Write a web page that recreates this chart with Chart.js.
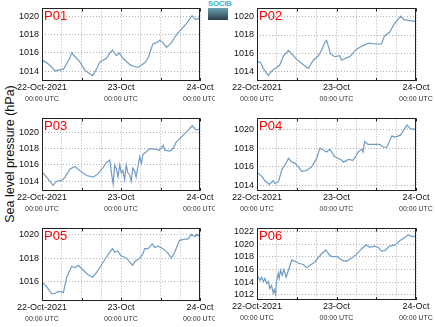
<!DOCTYPE html>
<html>
<head>
<meta charset="utf-8">
<script src="https://cdn.jsdelivr.net/npm/chart.js@4/dist/chart.umd.min.js"></script>
<style>
  body { margin: 0; background: #fff; width: 435px; height: 327px; position: relative; overflow: hidden; font-family: "Liberation Sans", Arial, sans-serif; }
  canvas { position: absolute; }
  #ytitle { position: absolute; left: 10px; top: 154px; transform: translate(-50%, -50%) rotate(-90deg); font-size: 12.5px; white-space: nowrap; color: #111; }
  #logo { position: absolute; left: 208px; top: 0; width: 20px; height: 21px; }
  #logo .t { font-size: 8px; color: #3fb6d6; line-height: 8px; letter-spacing: -0.4px; font-weight: bold; }
  #logo .b { width: 20px; height: 12px; background: linear-gradient(#6aa3b3, #2c3b4a); }
</style>
</head>
<body>
<div id="ytitle">Sea level pressure (hPa)</div>
<div id="logo"><div class="t">SOCIB</div><div class="b"></div></div>
<canvas id="c1"></canvas><canvas id="c2"></canvas>
<canvas id="c3"></canvas><canvas id="c4"></canvas>
<canvas id="c5"></canvas><canvas id="c6"></canvas>
<script>
// hours since 22-Oct-2021 00:00 UTC
const xTickHours = [0, 24, 48];
const xTickDates = ['22-Oct-2021', '23-Oct', '24-Oct'];
const xTickTimes = ['00:00 UTC', '00:00 UTC', '00:00 UTC'];
const stationNames = ['P01', 'P02', 'P03', 'P04', 'P05', 'P06'];

const p01Hours = [0,1.5,3,4,5,6.5,7.5,8.5,9,10,11.5,13,14.5,15.4,16.5,17.6,19.6,20.6,21.4,22,22.6,23.4,24.6,26.7,28,29.2,30.2,31.2,32.2,33.7,34.7,35.8,36.8,37.8,39.3,40.5,41.8,43.8,45.6,46.6,48];
const p01Values = [1015.2,1014.9,1014.4,1014.0,1014.1,1014.2,1014.8,1015.5,1016.0,1015.6,1015.0,1014.1,1013.7,1013.5,1014.2,1015.0,1015.4,1016.0,1016.3,1016.0,1015.7,1016.0,1015.4,1014.7,1014.5,1014.4,1014.65,1014.9,1015.4,1017.0,1017.1,1017.4,1017.1,1016.6,1017.1,1017.8,1018.4,1019.2,1020.1,1019.7,1019.8];

const p02Hours = [0,1,1.9,3.4,4.4,5.9,6.9,8,9.5,10.5,12,14,15.5,17,18.5,19.5,20.5,21,21.5,22.2,23.5,25,25.5,26.5,28,30,31.8,33.7,35.6,37.6,38.5,40,41.4,43.4,44.4,46,48];
const p02Values = [1015.0,1015.0,1014.3,1013.5,1014.0,1014.4,1014.7,1015.7,1016.3,1015.9,1015.3,1014.7,1014.3,1015.2,1015.7,1016.3,1017.2,1017.4,1016.8,1015.9,1015.6,1015.7,1015.2,1015.4,1015.6,1016.4,1016.8,1017.1,1017.0,1017.0,1017.9,1018.3,1019.2,1020.1,1019.7,1019.6,1019.5];

const p03Hours = [0,1.4,3.4,4.4,6,7,8.5,10,11.5,13.5,15.6,17,18.6,19.6,20.6,21.1,21.6,22.1,22.6,23.1,23.6,24.1,24.6,25.1,25.6,26.1,26.6,27.1,27.6,28.1,28.6,29.2,29.7,30.2,30.7,31.7,32.7,34.7,35.7,36.8,37.3,38.8,39.8,40.8,42.3,44.3,45.6,46.8,48];
const p03Values = [1015.1,1014.5,1013.5,1014.0,1014.1,1014.5,1015.5,1015.8,1015.3,1014.7,1014.5,1014.9,1015.7,1016.3,1016.6,1015.0,1013.7,1016.0,1015.5,1014.5,1016.0,1015.0,1015.3,1014.2,1016.0,1015.0,1014.8,1014.0,1015.6,1015.3,1014.5,1015.9,1017.0,1016.2,1017.3,1017.6,1018.0,1017.9,1017.8,1018.4,1017.8,1017.7,1018.0,1018.8,1019.4,1020.2,1020.8,1020.3,1020.4];

const p04Hours = [0,1.4,2.4,3.7,4.9,5.4,6.5,7.5,8.5,9.5,10.5,11.5,12.5,13.5,15,16.5,18,19,20,21,22,23.4,25.6,26.1,27.6,29,30.6,31.6,32,32.5,33.5,34.7,37,38.2,39.2,40.7,41.7,43.3,45.3,46.3,48];
const p04Values = [1015.4,1015.0,1014.5,1014.1,1014.5,1014.2,1014.4,1015.7,1016.2,1016.9,1016.5,1016.4,1016.0,1015.5,1015.6,1016.0,1016.9,1018.0,1017.8,1017.6,1017.9,1017.1,1016.7,1016.5,1016.8,1016.7,1017.6,1017.9,1017.6,1018.7,1018.4,1018.4,1018.4,1018.1,1018.1,1019.3,1019.2,1019.4,1020.5,1020.1,1020.0];

const p05Hours = [0,1.4,2.9,3.9,5,6,6.5,7.5,9,10,11,12.5,14,15.4,16.6,18,19.6,21.4,22.1,23,24,25.7,27.5,28.2,29.7,30.7,31.2,32.2,33.5,34.2,35.2,36.8,38.3,39.3,40.3,41.8,43.3,44.3,45.4,46.4,47.1,48];
const p05Values = [1016.0,1015.6,1015.0,1015.05,1015.2,1015.15,1015.1,1016.4,1017.3,1017.2,1017.4,1017.0,1016.6,1016.4,1016.8,1017.4,1018.1,1018.8,1018.5,1018.6,1018.2,1018.0,1017.4,1017.7,1018.0,1018.4,1018.8,1018.8,1019.2,1018.9,1019.0,1018.8,1018.4,1018.0,1018.5,1019.5,1019.6,1019.6,1020.0,1019.8,1020.0,1019.8];

const p06Hours = [0,0.9,1.4,1.9,2.4,2.9,3.4,3.9,4.4,4.9,5.2,5.6,5.9,6.4,6.7,7.1,7.6,8.1,8.8,9.5,10.5,11.5,12.5,14,15,16,17.5,18.5,19.5,20.8,22,23,24,25.6,27,28.5,30,31.6,33,34,35.6,36.6,37.6,38.6,40,41.6,43.2,44.7,45.7,46.7,48];
const p06Values = [1015.2,1014.3,1014.8,1014.1,1014.6,1013.8,1014.1,1013.0,1013.5,1012.3,1012.8,1012.1,1014.1,1015.4,1014.6,1015.9,1015.1,1016.0,1014.8,1015.9,1017.5,1017.3,1017.0,1016.8,1016.3,1016.7,1017.2,1017.9,1018.5,1019.1,1018.2,1018.0,1018.1,1017.5,1017.3,1017.8,1018.4,1019.3,1019.9,1019.5,1019.7,1019.5,1018.9,1019.0,1019.7,1019.9,1020.6,1021.1,1021.5,1021.2,1021.3];

const yMins = [1012.9, 1012.9, 1012.8, 1013.4, 1014.4, 1011.2];
const yMaxs = [1020.9, 1020.95, 1021.7, 1021.2, 1020.5, 1022.5];
const yStep = 2;

const allHours = [p01Hours, p02Hours, p03Hours, p04Hours, p05Hours, p06Hours];
const allValues = [p01Values, p02Values, p03Values, p04Values, p05Values, p06Values];

// canvas boxes: [left, top, width, height, padTop, padRight, xAxisHeight]
const boxes = [
  [0, 0, 215, 110, 8, 15, 29],
  [215, 0, 220, 110, 7, 19, 29],
  [0, 110, 215, 110, 8, 15, 29],
  [215, 110, 220, 110, 8, 19, 29],
  [0, 220, 215, 107, 8, 15, 26],
  [215, 220, 220, 107, 8, 19, 27]
];

const FONT = '"Liberation Sans", Arial, sans-serif';

const framePlugin = {
  id: 'frame',
  afterDraw(chart) {
    const ctx = chart.ctx, a = chart.chartArea, x = chart.scales.x;
    ctx.save();
    ctx.strokeStyle = '#222';
    ctx.lineWidth = 1;
    ctx.strokeRect(Math.round(a.left) + 0.5, Math.round(a.top) + 0.5, Math.round(a.right - a.left) - 1, Math.round(a.bottom - a.top) - 1);
    // small inward ticks every 12 h
    ctx.beginPath();
    for (let h = 0; h <= 48; h += 12) {
      const px = Math.round(x.getPixelForValue(h)) + 0.5;
      ctx.moveTo(px, a.bottom); ctx.lineTo(px, a.bottom - 3);
      ctx.moveTo(px, a.top); ctx.lineTo(px, a.top + 3);
    }
    ctx.stroke();
    ctx.textAlign = 'center';
    ctx.textBaseline = 'middle';
    xTickHours.forEach((h, i) => {
      const px = x.getPixelForValue(h);
      ctx.fillStyle = '#111';
      ctx.font = '9px ' + FONT;
      ctx.fillText(xTickDates[i], px, a.bottom + 7);
      ctx.fillStyle = '#333';
      ctx.font = '7px ' + FONT;
      ctx.fillText(xTickTimes[i], px, a.bottom + 18);
    });
    ctx.fillStyle = '#ff0000';
    ctx.font = '13px ' + FONT;
    ctx.textAlign = 'left';
    ctx.textBaseline = 'alphabetic';
    ctx.fillText(chart.options.plugins.frame.name, a.left + 2, a.top + 12);
    ctx.restore();
  }
};

stationNames.forEach((name, i) => {
  const b = boxes[i];
  const cv = document.getElementById('c' + (i + 1));
  cv.style.left = b[0] + 'px';
  cv.style.top = b[1] + 'px';
  cv.width = b[2];
  cv.height = b[3];
  const pts = allHours[i].map((h, k) => ({ x: h, y: allValues[i][k] }));
  new Chart(cv, {
    type: 'line',
    data: {
      datasets: [{
        data: pts,
        borderColor: '#6f9cc4',
        borderWidth: 1.2,
        pointRadius: 0,
        tension: 0,
        fill: false
      }]
    },
    options: {
      responsive: false,
      animation: false,
      events: [],
      layout: { padding: { top: b[4], right: b[5], left: 0, bottom: 0 } },
      plugins: {
        legend: { display: false },
        tooltip: { enabled: false },
        frame: { name: name }
      },
      scales: {
        x: {
          type: 'linear',
          min: 0,
          max: 48,
          ticks: { stepSize: 6, display: false },
          grid: { color: '#b0b0b0', lineWidth: 1, drawTicks: false },
          border: { display: false, dash: [1, 2] },
          afterFit(s) { s.height = b[6]; }
        },
        y: {
          min: yMins[i],
          max: yMaxs[i],
          afterBuildTicks(s) {
            const t = [];
            for (let v = Math.ceil(s.min / yStep) * yStep; v <= s.max; v += yStep) t.push({ value: v });
            s.ticks = t;
          },
          ticks: {
            padding: 3,
            color: '#111',
            font: { size: 9, family: FONT },
            callback: v => String(v)
          },
          grid: { color: '#b0b0b0', lineWidth: 1, drawTicks: false },
          border: { display: false, dash: [1, 2] },
          afterFit(s) { s.width = 42; }
        }
      }
    },
    plugins: [framePlugin]
  });
});
</script>
</body>
</html>
